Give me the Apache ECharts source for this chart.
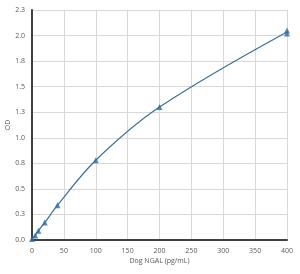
<!DOCTYPE html>
<html><head><meta charset="utf-8">
<script src="https://cdn.jsdelivr.net/npm/echarts@6/dist/echarts.min.js"></script>
<style>html,body{margin:0;padding:0;background:#fff}#c{width:300px;height:274px}</style>
</head><body><div id="c"></div>
<script>
const conc = [0, 5, 10, 20, 40, 100, 200, 400];
const odMean = [0.01, 0.045, 0.09, 0.17, 0.34, 0.78, 1.30, 2.035];
const repConc = [0, 5, 10, 20, 40, 100, 200, 400, 400];
const repOD = [0.01, 0.045, 0.09, 0.17, 0.34, 0.78, 1.30, 2.05, 2.02];
const yTicks = ['0.0','0.3','0.5','0.8','1.0','1.3','1.5','1.8','2.0','2.3'];
const xTicks = [0,50,100,150,200,250,300,350,400];

const chart = echarts.init(document.getElementById('c'));
const lbl = {fontFamily:'Open Sans', fontSize:7, color:'#595959'};
chart.setOption({
  animation:false,
  grid:{left:32,right:13,top:10,bottom:34,containLabel:false,outerBoundsMode:'none'},
  xAxis:{type:'value',min:0,max:400,interval:50,
    name:'Dog NGAL (pg/mL)',nameLocation:'middle',nameGap:17,nameMoveOverlap:false,
    nameTextStyle:{fontFamily:'Open Sans',fontSize:7,color:'#595959'},
    axisLine:{show:true,lineStyle:{color:'#404040',width:2}},
    axisTick:{show:false},
    axisLabel:Object.assign({margin:7,formatter:v=>xTicks.includes(v)?String(v):''},lbl),
    splitLine:{show:true,lineStyle:{color:'#d9d9d9',width:1}}},
  yAxis:{type:'value',min:0,max:2.25,interval:0.25,
    name:'OD',nameLocation:'middle',nameGap:21,nameRotate:90,nameMoveOverlap:false,
    nameTextStyle:{fontFamily:'Open Sans',fontSize:7,color:'#595959'},
    axisLine:{show:true,lineStyle:{color:'#404040',width:2}},
    axisTick:{show:false},
    axisLabel:Object.assign({margin:7,formatter:(v)=>yTicks[Math.round(v/0.25)]},lbl),
    splitLine:{show:true,lineStyle:{color:'#d9d9d9',width:1}}},
  series:[
    {type:'line',data:conc.map((x,i)=>[x,odMean[i]]),smooth:0.35,showSymbol:false,
     lineStyle:{color:'#3b6d98',width:1.2},z:2},
    {type:'scatter',data:repConc.map((x,i)=>[x,repOD[i]]),symbol:'triangle',symbolSize:6,
     itemStyle:{color:'#2f6aa0'},z:3}
  ]
});
</script></body></html>
